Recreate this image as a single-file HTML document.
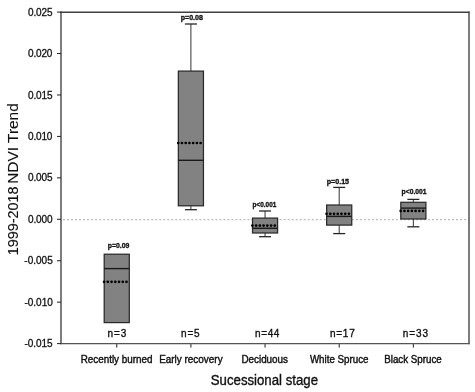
<!DOCTYPE html>
<html><head><meta charset="utf-8"><style>
html,body{margin:0;padding:0;background:#fff;width:475px;height:392px;overflow:hidden}
svg{display:block;font-family:"Liberation Sans",sans-serif;filter:grayscale(1)}
</style></head><body>
<svg width="475" height="392" viewBox="0 0 475 392">
<line x1="63" y1="219.7" x2="469" y2="219.7" stroke="#aaaaaa" stroke-width="1" stroke-dasharray="2,2.011"/>
<rect x="104.20" y="254.2" width="25.10" height="68.40" fill="#828282" stroke="#2a2a2a" stroke-width="1.25"/>
<line x1="104.20" y1="268.6" x2="129.30" y2="268.6" stroke="#1a1a1a" stroke-width="1.4"/>
<circle cx="104.10" cy="281.8" r="1.35" fill="#000"/>
<circle cx="107.83" cy="281.8" r="1.35" fill="#000"/>
<circle cx="111.56" cy="281.8" r="1.35" fill="#000"/>
<circle cx="115.29" cy="281.8" r="1.35" fill="#000"/>
<circle cx="119.02" cy="281.8" r="1.35" fill="#000"/>
<circle cx="122.75" cy="281.8" r="1.35" fill="#000"/>
<circle cx="126.48" cy="281.8" r="1.35" fill="#000"/>
<line x1="116.75" y1="343.6" x2="116.75" y2="347.6" stroke="#222" stroke-width="1"/>
<line x1="190.90" y1="24.0" x2="190.90" y2="71.1" stroke="#333" stroke-width="1"/>
<line x1="184.90" y1="24.0" x2="196.90" y2="24.0" stroke="#262626" stroke-width="1.3"/>
<line x1="190.90" y1="205.8" x2="190.90" y2="209.7" stroke="#333" stroke-width="1"/>
<line x1="184.90" y1="209.7" x2="196.90" y2="209.7" stroke="#262626" stroke-width="1.3"/>
<rect x="178.35" y="71.1" width="25.10" height="134.70" fill="#828282" stroke="#2a2a2a" stroke-width="1.25"/>
<line x1="178.35" y1="160.3" x2="203.45" y2="160.3" stroke="#1a1a1a" stroke-width="1.4"/>
<circle cx="178.25" cy="143.0" r="1.35" fill="#000"/>
<circle cx="181.98" cy="143.0" r="1.35" fill="#000"/>
<circle cx="185.71" cy="143.0" r="1.35" fill="#000"/>
<circle cx="189.44" cy="143.0" r="1.35" fill="#000"/>
<circle cx="193.17" cy="143.0" r="1.35" fill="#000"/>
<circle cx="196.90" cy="143.0" r="1.35" fill="#000"/>
<circle cx="200.63" cy="143.0" r="1.35" fill="#000"/>
<line x1="190.90" y1="343.6" x2="190.90" y2="347.6" stroke="#222" stroke-width="1"/>
<line x1="265.05" y1="211.0" x2="265.05" y2="218.1" stroke="#333" stroke-width="1"/>
<line x1="259.05" y1="211.0" x2="271.05" y2="211.0" stroke="#262626" stroke-width="1.3"/>
<line x1="265.05" y1="233.0" x2="265.05" y2="236.7" stroke="#333" stroke-width="1"/>
<line x1="259.05" y1="236.7" x2="271.05" y2="236.7" stroke="#262626" stroke-width="1.3"/>
<rect x="252.50" y="218.1" width="25.10" height="14.90" fill="#828282" stroke="#2a2a2a" stroke-width="1.25"/>
<line x1="252.50" y1="228.3" x2="277.60" y2="228.3" stroke="#1a1a1a" stroke-width="1.4"/>
<circle cx="252.40" cy="225.6" r="1.35" fill="#000"/>
<circle cx="256.13" cy="225.6" r="1.35" fill="#000"/>
<circle cx="259.86" cy="225.6" r="1.35" fill="#000"/>
<circle cx="263.59" cy="225.6" r="1.35" fill="#000"/>
<circle cx="267.32" cy="225.6" r="1.35" fill="#000"/>
<circle cx="271.05" cy="225.6" r="1.35" fill="#000"/>
<circle cx="274.78" cy="225.6" r="1.35" fill="#000"/>
<line x1="265.05" y1="343.6" x2="265.05" y2="347.6" stroke="#222" stroke-width="1"/>
<line x1="339.20" y1="187.4" x2="339.20" y2="205.0" stroke="#333" stroke-width="1"/>
<line x1="333.20" y1="187.4" x2="345.20" y2="187.4" stroke="#262626" stroke-width="1.3"/>
<line x1="339.20" y1="225.1" x2="339.20" y2="233.6" stroke="#333" stroke-width="1"/>
<line x1="333.20" y1="233.6" x2="345.20" y2="233.6" stroke="#262626" stroke-width="1.3"/>
<rect x="326.65" y="205.0" width="25.10" height="20.10" fill="#828282" stroke="#2a2a2a" stroke-width="1.25"/>
<line x1="326.65" y1="216.4" x2="351.75" y2="216.4" stroke="#1a1a1a" stroke-width="1.4"/>
<circle cx="326.55" cy="213.8" r="1.35" fill="#000"/>
<circle cx="330.28" cy="213.8" r="1.35" fill="#000"/>
<circle cx="334.01" cy="213.8" r="1.35" fill="#000"/>
<circle cx="337.74" cy="213.8" r="1.35" fill="#000"/>
<circle cx="341.47" cy="213.8" r="1.35" fill="#000"/>
<circle cx="345.20" cy="213.8" r="1.35" fill="#000"/>
<circle cx="348.93" cy="213.8" r="1.35" fill="#000"/>
<line x1="339.20" y1="343.6" x2="339.20" y2="347.6" stroke="#222" stroke-width="1"/>
<line x1="413.35" y1="199.4" x2="413.35" y2="202.3" stroke="#333" stroke-width="1"/>
<line x1="407.35" y1="199.4" x2="419.35" y2="199.4" stroke="#262626" stroke-width="1.3"/>
<line x1="413.35" y1="219.0" x2="413.35" y2="226.8" stroke="#333" stroke-width="1"/>
<line x1="407.35" y1="226.8" x2="419.35" y2="226.8" stroke="#262626" stroke-width="1.3"/>
<rect x="400.80" y="202.3" width="25.10" height="16.70" fill="#828282" stroke="#2a2a2a" stroke-width="1.25"/>
<line x1="400.80" y1="208.1" x2="425.90" y2="208.1" stroke="#1a1a1a" stroke-width="1.4"/>
<circle cx="400.70" cy="210.9" r="1.35" fill="#000"/>
<circle cx="404.43" cy="210.9" r="1.35" fill="#000"/>
<circle cx="408.16" cy="210.9" r="1.35" fill="#000"/>
<circle cx="411.89" cy="210.9" r="1.35" fill="#000"/>
<circle cx="415.62" cy="210.9" r="1.35" fill="#000"/>
<circle cx="419.35" cy="210.9" r="1.35" fill="#000"/>
<circle cx="423.08" cy="210.9" r="1.35" fill="#000"/>
<line x1="413.35" y1="343.6" x2="413.35" y2="347.6" stroke="#222" stroke-width="1"/>
<line x1="61" y1="11.5" x2="61" y2="344.20000000000005" stroke="#3e3e3e" stroke-width="1.35"/>
<line x1="469" y1="11.5" x2="469" y2="344.20000000000005" stroke="#3e3e3e" stroke-width="1.35"/>
<line x1="60.4" y1="12.2" x2="469.6" y2="12.2" stroke="#404040" stroke-width="1.4"/>
<line x1="60.4" y1="343.6" x2="469.6" y2="343.6" stroke="#555555" stroke-width="1.3"/>
<line x1="57" y1="12.10" x2="61" y2="12.10" stroke="#222" stroke-width="1"/>
<line x1="57" y1="53.54" x2="61" y2="53.54" stroke="#222" stroke-width="1"/>
<line x1="57" y1="94.97" x2="61" y2="94.97" stroke="#222" stroke-width="1"/>
<line x1="57" y1="136.41" x2="61" y2="136.41" stroke="#222" stroke-width="1"/>
<line x1="57" y1="177.85" x2="61" y2="177.85" stroke="#222" stroke-width="1"/>
<line x1="57" y1="219.29" x2="61" y2="219.29" stroke="#222" stroke-width="1"/>
<line x1="57" y1="260.73" x2="61" y2="260.73" stroke="#222" stroke-width="1"/>
<line x1="57" y1="302.16" x2="61" y2="302.16" stroke="#222" stroke-width="1"/>
<line x1="57" y1="343.60" x2="61" y2="343.60" stroke="#222" stroke-width="1"/>
<text id="x0" x="80.66" y="363.0" font-size="10" fill="#111" stroke="#111" stroke-width="0.4" textLength="71.81" lengthAdjust="spacingAndGlyphs">Recently burned</text>
<text id="x1" x="159.17" y="363.0" font-size="10" fill="#111" stroke="#111" stroke-width="0.4" textLength="63.44" lengthAdjust="spacingAndGlyphs">Early recovery</text>
<text id="x2" x="241.40" y="363.0" font-size="10" fill="#111" stroke="#111" stroke-width="0.4" textLength="46.65" lengthAdjust="spacingAndGlyphs">Deciduous</text>
<text id="x3" x="309.90" y="363.0" font-size="10" fill="#111" stroke="#111" stroke-width="0.4" textLength="58.54" lengthAdjust="spacingAndGlyphs">White Spruce</text>
<text id="x4" x="384.26" y="363.0" font-size="10" fill="#111" stroke="#111" stroke-width="0.4" textLength="57.47" lengthAdjust="spacingAndGlyphs">Black Spruce</text>
<text id="n0" x="107.57" y="337.0" font-size="10" fill="#111" stroke="#111" stroke-width="0.35" textLength="18.78" lengthAdjust="spacing">n=3</text>
<text id="n1" x="181.08" y="337.0" font-size="10" fill="#111" stroke="#111" stroke-width="0.35" textLength="18.59" lengthAdjust="spacing">n=5</text>
<text id="n2" x="254.92" y="337.0" font-size="10" fill="#111" stroke="#111" stroke-width="0.35" textLength="24.49" lengthAdjust="spacing">n=44</text>
<text id="n3" x="330.01" y="337.0" font-size="10" fill="#111" stroke="#111" stroke-width="0.35" textLength="24.68" lengthAdjust="spacing">n=17</text>
<text id="n4" x="402.87" y="337.0" font-size="10" fill="#111" stroke="#111" stroke-width="0.35" textLength="25.23" lengthAdjust="spacing">n=33</text>
<text id="p0" x="107.76" y="248.1" font-size="6.6" font-weight="bold" fill="#111" stroke="#111" stroke-width="0.3" textLength="21.60" lengthAdjust="spacingAndGlyphs">p=0.09</text>
<text id="p1" x="180.69" y="20.1" font-size="6.6" font-weight="bold" fill="#111" stroke="#111" stroke-width="0.3" textLength="22.20" lengthAdjust="spacingAndGlyphs">p=0.08</text>
<text id="p2" x="252.53" y="207.2" font-size="6.6" font-weight="bold" fill="#111" stroke="#111" stroke-width="0.3" textLength="23.81" lengthAdjust="spacingAndGlyphs">p&lt;0.001</text>
<text id="p3" x="326.67" y="183.5" font-size="6.6" font-weight="bold" fill="#111" stroke="#111" stroke-width="0.3" textLength="22.42" lengthAdjust="spacingAndGlyphs">p=0.15</text>
<text id="p4" x="401.62" y="193.5" font-size="6.6" font-weight="bold" fill="#111" stroke="#111" stroke-width="0.3" textLength="25.02" lengthAdjust="spacingAndGlyphs">p&lt;0.001</text>
<text id="t0" x="210.77" y="385.0" font-size="14" fill="#111" stroke="#111" stroke-width="0.35" textLength="107.23" lengthAdjust="spacingAndGlyphs">Sucessional stage</text>
<text id="y0" x="27.97" y="15.7" font-size="10" fill="#111" stroke="#111" stroke-width="0.3" textLength="24.60" lengthAdjust="spacing">0.025</text>
<text id="y1" x="28.08" y="57.1375" font-size="10" fill="#111" stroke="#111" stroke-width="0.3" textLength="24.30" lengthAdjust="spacing">0.020</text>
<text id="y2" x="27.96" y="98.57499999999999" font-size="10" fill="#111" stroke="#111" stroke-width="0.3" textLength="24.61" lengthAdjust="spacing">0.015</text>
<text id="y3" x="27.98" y="140.0125" font-size="10" fill="#111" stroke="#111" stroke-width="0.3" textLength="24.45" lengthAdjust="spacing">0.010</text>
<text id="y4" x="28.06" y="181.45" font-size="10" fill="#111" stroke="#111" stroke-width="0.3" textLength="24.39" lengthAdjust="spacing">0.005</text>
<text id="y5" x="27.99" y="222.8875" font-size="10" fill="#111" stroke="#111" stroke-width="0.3" textLength="24.57" lengthAdjust="spacing">0.000</text>
<text id="y6" x="24.26" y="264.32500000000005" font-size="10" fill="#111" stroke="#111" stroke-width="0.3" textLength="28.50" lengthAdjust="spacing">-0.005</text>
<text id="y7" x="24.47" y="305.76250000000005" font-size="10" fill="#111" stroke="#111" stroke-width="0.3" textLength="28.32" lengthAdjust="spacing">-0.010</text>
<text id="y8" x="24.47" y="347.20000000000005" font-size="10" fill="#111" stroke="#111" stroke-width="0.3" textLength="28.00" lengthAdjust="spacing">-0.015</text>
<text id="v0" transform="translate(17.9,255.37) rotate(-90)" x="0" y="0" font-size="14" fill="#111" stroke="#111" stroke-width="0.1" textLength="68.95" lengthAdjust="spacingAndGlyphs">1999-2018</text>
<text id="v1" transform="translate(17.9,183.79) rotate(-90)" x="0" y="0" font-size="14" fill="#111" stroke="#111" stroke-width="0.1" textLength="80.53" lengthAdjust="spacingAndGlyphs">NDVI Trend</text>
</svg>
</body></html>
